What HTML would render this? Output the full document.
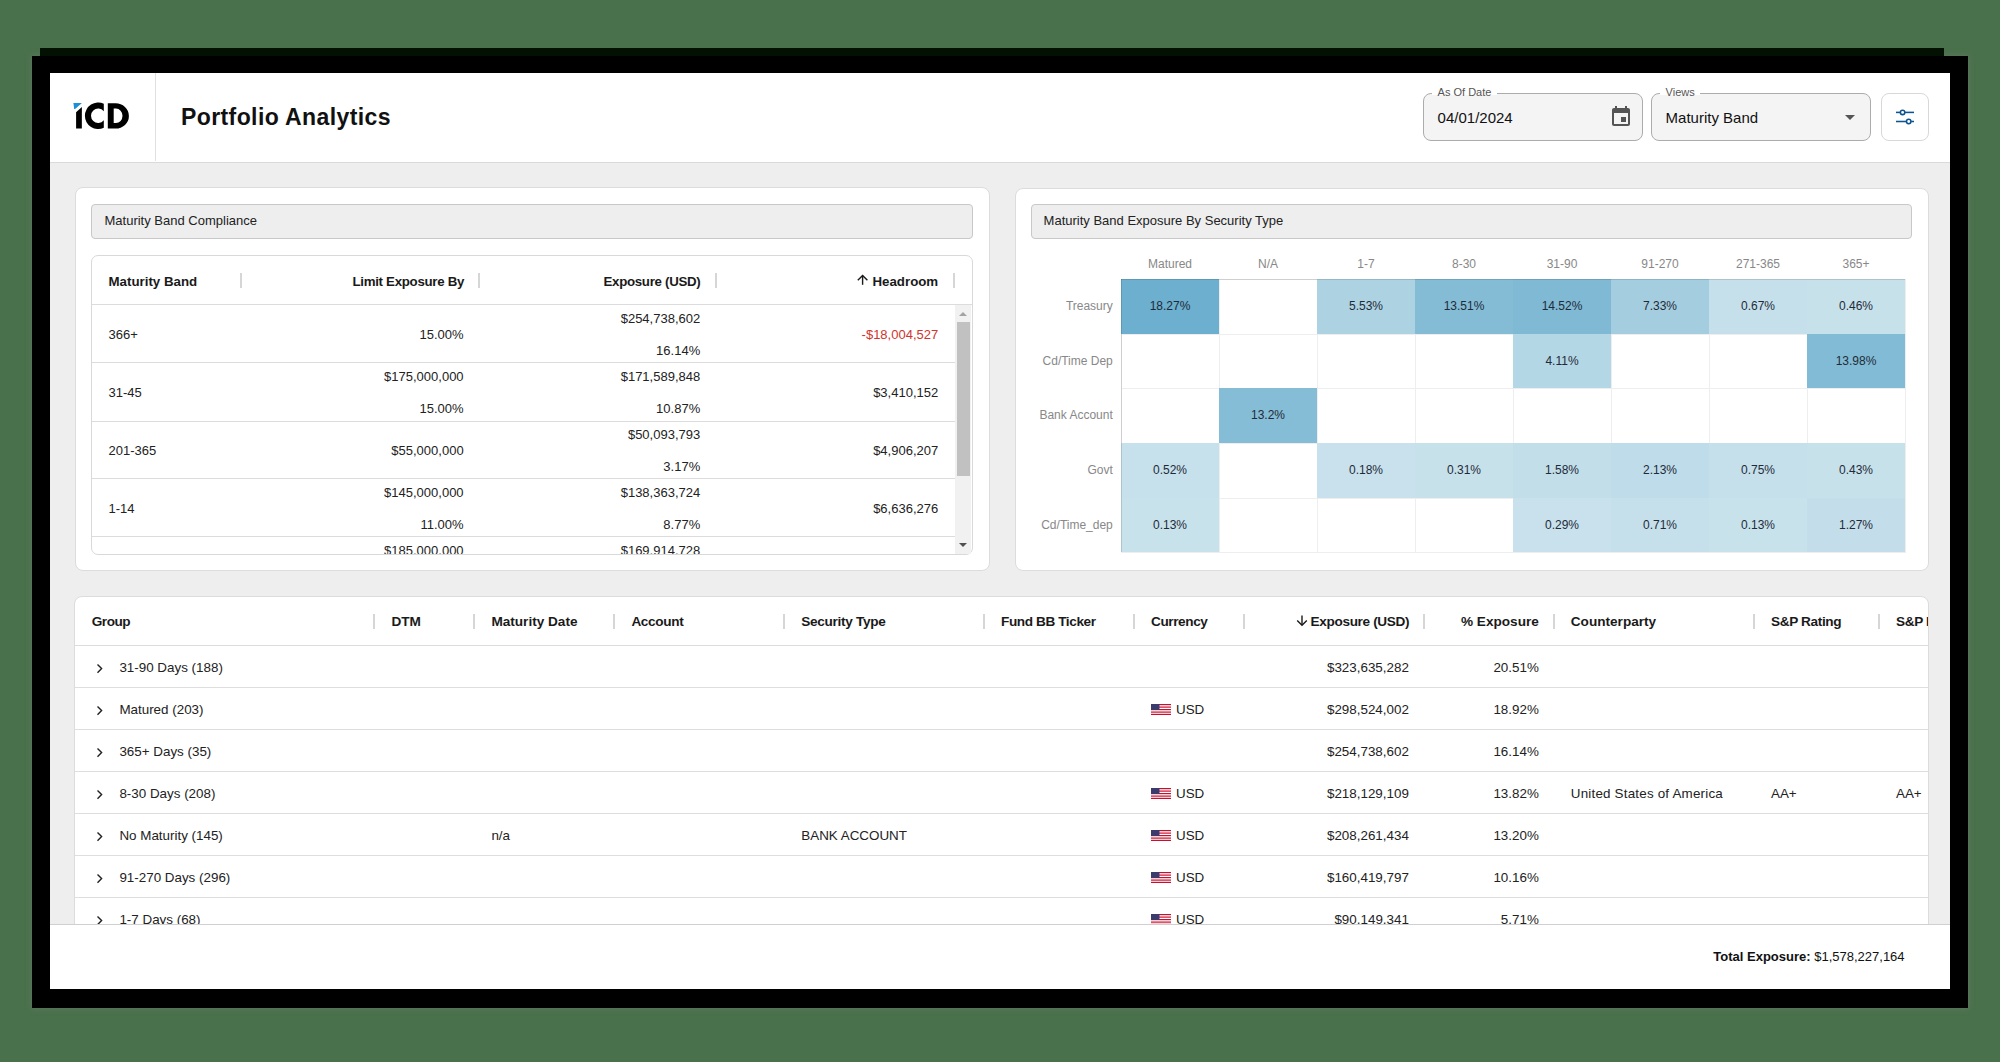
<!DOCTYPE html>
<html><head><meta charset="utf-8">
<style>
*{box-sizing:border-box;margin:0;padding:0}
html,body{width:2000px;height:1062px;overflow:hidden}
body{background:#49714b;font-family:"Liberation Sans",sans-serif;color:#222;position:relative}
.t{position:absolute;white-space:nowrap}
.b{position:absolute}
.clip{position:absolute;overflow:hidden}
</style></head><body>

<div class="b" style="left:32px;top:56px;width:1936px;height:952px;background:#000;box-shadow:0 0 6px 1px rgba(128,128,128,0.35)"></div>
<div class="b" style="left:40px;top:48px;width:1904px;height:8px;background:#021102"></div>
<div class="b" style="left:50px;top:73px;width:1900px;height:916px;background:#eeeeee"></div>
<div class="b" style="left:50px;top:73px;width:1900px;height:89px;background:#fff"></div>
<div class="b" style="left:50px;top:162px;width:1900px;height:1px;background:#dadada"></div>
<div class="b" style="left:155px;top:73px;width:1px;height:88px;background:#e0e0e0"></div>
<svg class="b" style="left:70px;top:98px" width="64" height="34" viewBox="70 98 64 34">
<polygon points="73.4,103.1 81.9,103.1 75.1,108.9 74.2,108.9" fill="#1b8fd8"/>
<polygon points="76.1,112.2 81.85,107.1 81.85,128.6 76.1,128.6" fill="#000"/>
<path d="M103.8,103.74 A13.3,13.3 0 1 0 103.8,127.86 L103.8,120.33 A7.2,7.2 0 1 1 103.8,111.27 Z" fill="#000"/>
<path fill-rule="evenodd" fill="#000" d="M107.8,103.3 H115.5 A13.4,12.65 0 0 1 115.5,128.6 H107.8 Z M113.7,108.6 H116 A6.5,7.2 0 0 1 116,123 H113.7 Z"/>
</svg>
<div class="t" style="top:106.03px;font-size:23px;line-height:23px;color:#111;font-weight:bold;letter-spacing:0.4px;left:181.00px;">Portfolio Analytics</div>
<div class="b" style="left:1423px;top:93px;width:220px;height:48px;background:#f4f4f4;border:1px solid #acacac;border-radius:8px"></div>
<div class="b" style="left:1432px;top:92px;width:64.5px;height:3px;background:#fff"></div>
<div class="t" style="top:86.59px;font-size:11px;line-height:11px;color:#555;left:1437.60px;">As Of Date</div>
<div class="t" style="top:110.30px;font-size:15px;line-height:15px;color:#111;left:1437.60px;">04/01/2024</div>
<div class="b" style="left:1651px;top:93px;width:220px;height:48px;background:#f4f4f4;border:1px solid #acacac;border-radius:8px"></div>
<div class="b" style="left:1660px;top:92px;width:40px;height:3px;background:#fff"></div>
<div class="t" style="top:86.59px;font-size:11px;line-height:11px;color:#555;left:1665.60px;">Views</div>
<div class="t" style="top:110.30px;font-size:15px;line-height:15px;color:#111;left:1665.60px;">Maturity Band</div>
<svg class="b" style="left:1609.2px;top:105.1px" width="24" height="24" viewBox="0 0 24 24"><path fill="#545454" d="M17 12h-5v5h5v-5zM16 1v2H8V1H6v2H5c-1.11 0-1.99.9-1.99 2L3 19c0 1.1.89 2 2 2h14c1.1 0 2-.9 2-2V5c0-1.1-.9-2-2-2h-1V1h-2zm3 18H5V8h14v11z"/></svg>
<svg class="b" style="left:1845px;top:115px" width="10" height="5" viewBox="0 0 10 5"><path d="M0 0L5 5L10 0Z" fill="#555"/></svg>
<div class="b" style="left:1881px;top:93px;width:48px;height:48px;background:#fff;border:1px solid #d8d8d8;border-radius:8px"></div>
<svg class="b" style="left:1890px;top:104px" width="30" height="26" viewBox="1890 104 30 26">
<g stroke="#0c5591" stroke-width="1.55" fill="none">
<line x1="1896" y1="112.4" x2="1900.2" y2="112.4"/><line x1="1905" y1="112.4" x2="1914" y2="112.4"/>
<circle cx="1902.6" cy="112.4" r="2.2" fill="#fff"/>
<line x1="1896" y1="121.5" x2="1906.3" y2="121.5"/><line x1="1911.1" y1="121.5" x2="1914" y2="121.5"/>
<circle cx="1908.7" cy="121.5" r="2.2" fill="#fff"/>
</g></svg>
<div class="b" style="left:75px;top:187px;width:915px;height:384px;background:#fff;border:1px solid #dcdcdc;border-radius:8px"></div>
<div class="b" style="left:1015px;top:188px;width:914px;height:383px;background:#fff;border:1px solid #dcdcdc;border-radius:8px"></div>
<div class="b" style="left:91px;top:204px;width:882px;height:35px;background:#eeeeee;border:1px solid #c8c8c8;border-radius:4px"></div>
<div class="t" style="top:214.30px;font-size:13px;line-height:13px;color:#222;left:104.50px;">Maturity Band Compliance</div>
<div class="b" style="left:1031px;top:204px;width:881px;height:35px;background:#eeeeee;border:1px solid #c8c8c8;border-radius:4px"></div>
<div class="t" style="top:214.30px;font-size:13px;line-height:13px;color:#222;left:1043.60px;">Maturity Band Exposure By Security Type</div>
<div class="b" style="left:91px;top:255px;width:882px;height:300px;background:#fff;border:1px solid #d9d9d9;border-radius:7px"></div>
<div class="b" style="left:92px;top:304px;width:880px;height:1px;background:#dcdcdc"></div>
<div class="b" style="left:240px;top:273px;width:2px;height:15px;background:#d6d6d6"></div>
<div class="b" style="left:478px;top:273px;width:2px;height:15px;background:#d6d6d6"></div>
<div class="b" style="left:715px;top:273px;width:2px;height:15px;background:#d6d6d6"></div>
<div class="b" style="left:953px;top:273px;width:2px;height:15px;background:#d6d6d6"></div>
<div class="t" style="top:274.74px;font-size:13.3px;line-height:13.3px;color:#1a1a1a;font-weight:bold;left:108.50px;">Maturity Band</div>
<div class="t" style="top:274.74px;font-size:13.3px;line-height:13.3px;color:#1a1a1a;font-weight:bold;letter-spacing:-0.3px;left:-535.90px;width:1000px;text-align:right;">Limit Exposure By</div>
<div class="t" style="top:274.74px;font-size:13.3px;line-height:13.3px;color:#1a1a1a;font-weight:bold;letter-spacing:-0.3px;left:-299.50px;width:1000px;text-align:right;">Exposure (USD)</div>
<div class="t" style="top:274.74px;font-size:13.3px;line-height:13.3px;color:#1a1a1a;font-weight:bold;left:-61.80px;width:1000px;text-align:right;">Headroom</div>
<svg class="b" style="left:856px;top:274px" width="13" height="12" viewBox="856 274 13 12"><g stroke="#1a1a1a" stroke-width="1.4" fill="none"><path d="M862.6,284.8 V275.6"/><path d="M857.8,280.2 L862.6,275.4 L867.4,280.2"/></g></svg>
<div class="clip" style="left:92px;top:305px;width:863px;height:249px">
<div class="t" style="top:22.80px;font-size:13px;line-height:13px;color:#222;left:16.50px;">366+</div>
<div class="t" style="top:22.80px;font-size:13px;line-height:13px;color:#222;left:-628.40px;width:1000px;text-align:right;">15.00%</div>
<div class="t" style="top:6.70px;font-size:13px;line-height:13px;color:#222;left:-391.80px;width:1000px;text-align:right;">$254,738,602</div>
<div class="t" style="top:38.70px;font-size:13px;line-height:13px;color:#222;left:-391.80px;width:1000px;text-align:right;">16.14%</div>
<div class="t" style="top:22.80px;font-size:13px;line-height:13px;color:#d0342c;left:-153.80px;width:1000px;text-align:right;">-$18,004,527</div>
<div class="b" style="left:0px;top:57.39999999999998px;width:863px;height:1px;background:#dcdcdc"></div>
<div class="t" style="top:80.80px;font-size:13px;line-height:13px;color:#222;left:16.50px;">31-45</div>
<div class="t" style="top:64.70px;font-size:13px;line-height:13px;color:#222;left:-628.40px;width:1000px;text-align:right;">$175,000,000</div>
<div class="t" style="top:96.70px;font-size:13px;line-height:13px;color:#222;left:-628.40px;width:1000px;text-align:right;">15.00%</div>
<div class="t" style="top:64.70px;font-size:13px;line-height:13px;color:#222;left:-391.80px;width:1000px;text-align:right;">$171,589,848</div>
<div class="t" style="top:96.70px;font-size:13px;line-height:13px;color:#222;left:-391.80px;width:1000px;text-align:right;">10.87%</div>
<div class="t" style="top:80.80px;font-size:13px;line-height:13px;color:#222;left:-153.80px;width:1000px;text-align:right;">$3,410,152</div>
<div class="b" style="left:0px;top:115.5px;width:863px;height:1px;background:#dcdcdc"></div>
<div class="t" style="top:138.90px;font-size:13px;line-height:13px;color:#222;left:16.50px;">201-365</div>
<div class="t" style="top:138.90px;font-size:13px;line-height:13px;color:#222;left:-628.40px;width:1000px;text-align:right;">$55,000,000</div>
<div class="t" style="top:122.80px;font-size:13px;line-height:13px;color:#222;left:-391.80px;width:1000px;text-align:right;">$50,093,793</div>
<div class="t" style="top:154.80px;font-size:13px;line-height:13px;color:#222;left:-391.80px;width:1000px;text-align:right;">3.17%</div>
<div class="t" style="top:138.90px;font-size:13px;line-height:13px;color:#222;left:-153.80px;width:1000px;text-align:right;">$4,906,207</div>
<div class="b" style="left:0px;top:173.39999999999998px;width:863px;height:1px;background:#dcdcdc"></div>
<div class="t" style="top:196.80px;font-size:13px;line-height:13px;color:#222;left:16.50px;">1-14</div>
<div class="t" style="top:180.70px;font-size:13px;line-height:13px;color:#222;left:-628.40px;width:1000px;text-align:right;">$145,000,000</div>
<div class="t" style="top:212.70px;font-size:13px;line-height:13px;color:#222;left:-628.40px;width:1000px;text-align:right;">11.00%</div>
<div class="t" style="top:180.70px;font-size:13px;line-height:13px;color:#222;left:-391.80px;width:1000px;text-align:right;">$138,363,724</div>
<div class="t" style="top:212.70px;font-size:13px;line-height:13px;color:#222;left:-391.80px;width:1000px;text-align:right;">8.77%</div>
<div class="t" style="top:196.80px;font-size:13px;line-height:13px;color:#222;left:-153.80px;width:1000px;text-align:right;">$6,636,276</div>
<div class="b" style="left:0px;top:231.39999999999998px;width:863px;height:1px;background:#dcdcdc"></div>
<div class="t" style="top:238.70px;font-size:13px;line-height:13px;color:#222;left:-628.40px;width:1000px;text-align:right;">$185,000,000</div>
<div class="t" style="top:270.70px;font-size:13px;line-height:13px;color:#222;left:-628.40px;width:1000px;text-align:right;">12.00%</div>
<div class="t" style="top:238.70px;font-size:13px;line-height:13px;color:#222;left:-391.80px;width:1000px;text-align:right;">$169,914,728</div>
<div class="t" style="top:270.70px;font-size:13px;line-height:13px;color:#222;left:-391.80px;width:1000px;text-align:right;">10.77%</div>
</div>
<div class="b" style="left:955px;top:305px;width:16px;height:249px;background:#f1f1f1"></div>
<div class="b" style="left:957.2px;top:321.8px;width:12.7px;height:153.8px;background:#c1c1c1"></div>
<svg class="b" style="left:958px;top:311px" width="10" height="6" viewBox="0 0 10 6"><path d="M1 5L5 1L9 5Z" fill="#a3a3a3"/></svg>
<svg class="b" style="left:958px;top:541.5px" width="10" height="6" viewBox="0 0 10 6"><path d="M1 1L5 5L9 1Z" fill="#505050"/></svg>
<div class="b" style="left:1121px;top:279px;width:784px;height:1px;background:#eeeeee"></div>
<div class="b" style="left:1121px;top:334px;width:784px;height:1px;background:#eeeeee"></div>
<div class="b" style="left:1121px;top:388px;width:784px;height:1px;background:#eeeeee"></div>
<div class="b" style="left:1121px;top:443px;width:784px;height:1px;background:#eeeeee"></div>
<div class="b" style="left:1121px;top:498px;width:784px;height:1px;background:#eeeeee"></div>
<div class="b" style="left:1121px;top:552px;width:784px;height:1px;background:#eeeeee"></div>
<div class="b" style="left:1121px;top:279px;width:1px;height:273.5px;background:#eeeeee"></div>
<div class="b" style="left:1219px;top:279px;width:1px;height:273.5px;background:#eeeeee"></div>
<div class="b" style="left:1317px;top:279px;width:1px;height:273.5px;background:#eeeeee"></div>
<div class="b" style="left:1415px;top:279px;width:1px;height:273.5px;background:#eeeeee"></div>
<div class="b" style="left:1513px;top:279px;width:1px;height:273.5px;background:#eeeeee"></div>
<div class="b" style="left:1611px;top:279px;width:1px;height:273.5px;background:#eeeeee"></div>
<div class="b" style="left:1709px;top:279px;width:1px;height:273.5px;background:#eeeeee"></div>
<div class="b" style="left:1807px;top:279px;width:1px;height:273.5px;background:#eeeeee"></div>
<div class="b" style="left:1905px;top:279px;width:1px;height:273.5px;background:#eeeeee"></div>
<div class="b" style="left:1121px;top:279px;width:98px;height:55px;background:#6cafce"></div>
<div class="b" style="left:1317px;top:279px;width:98px;height:55px;background:#add3e3"></div>
<div class="b" style="left:1415px;top:279px;width:98px;height:55px;background:#84bcd6"></div>
<div class="b" style="left:1513px;top:279px;width:98px;height:55px;background:#7fb9d4"></div>
<div class="b" style="left:1611px;top:279px;width:98px;height:55px;background:#a4cee0"></div>
<div class="b" style="left:1709px;top:279px;width:98px;height:55px;background:#c6e0eb"></div>
<div class="b" style="left:1807px;top:279px;width:98px;height:55px;background:#c7e1eb"></div>
<div class="b" style="left:1513px;top:334px;width:98px;height:54px;background:#b4d7e5"></div>
<div class="b" style="left:1807px;top:334px;width:98px;height:54px;background:#82bbd5"></div>
<div class="b" style="left:1219px;top:388px;width:98px;height:55px;background:#86bdd6"></div>
<div class="b" style="left:1121px;top:443px;width:98px;height:55px;background:#c6e1eb"></div>
<div class="b" style="left:1317px;top:443px;width:98px;height:55px;background:#c8e1ec"></div>
<div class="b" style="left:1415px;top:443px;width:98px;height:55px;background:#c7e1eb"></div>
<div class="b" style="left:1513px;top:443px;width:98px;height:55px;background:#c1dee9"></div>
<div class="b" style="left:1611px;top:443px;width:98px;height:55px;background:#bedce9"></div>
<div class="b" style="left:1709px;top:443px;width:98px;height:55px;background:#c5e0eb"></div>
<div class="b" style="left:1807px;top:443px;width:98px;height:55px;background:#c7e1eb"></div>
<div class="b" style="left:1121px;top:498px;width:98px;height:54px;background:#c8e2ec"></div>
<div class="b" style="left:1513px;top:498px;width:98px;height:54px;background:#c8e1ec"></div>
<div class="b" style="left:1611px;top:498px;width:98px;height:54px;background:#c5e0eb"></div>
<div class="b" style="left:1709px;top:498px;width:98px;height:54px;background:#c8e2ec"></div>
<div class="b" style="left:1807px;top:498px;width:98px;height:54px;background:#c3deea"></div>
<div class="b" style="left:1121px;top:278.5px;width:784px;height:1px;background:rgba(0,0,0,0.13)"></div>
<div class="b" style="left:1121px;top:278.5px;width:1px;height:273.5px;background:rgba(0,0,0,0.13)"></div>
<div class="t" style="top:257.64px;font-size:12px;line-height:12px;color:#888;left:670.00px;width:1000px;text-align:center;">Matured</div>
<div class="t" style="top:257.64px;font-size:12px;line-height:12px;color:#888;left:768.00px;width:1000px;text-align:center;">N/A</div>
<div class="t" style="top:257.64px;font-size:12px;line-height:12px;color:#888;left:866.00px;width:1000px;text-align:center;">1-7</div>
<div class="t" style="top:257.64px;font-size:12px;line-height:12px;color:#888;left:964.00px;width:1000px;text-align:center;">8-30</div>
<div class="t" style="top:257.64px;font-size:12px;line-height:12px;color:#888;left:1062.00px;width:1000px;text-align:center;">31-90</div>
<div class="t" style="top:257.64px;font-size:12px;line-height:12px;color:#888;left:1160.00px;width:1000px;text-align:center;">91-270</div>
<div class="t" style="top:257.64px;font-size:12px;line-height:12px;color:#888;left:1258.00px;width:1000px;text-align:center;">271-365</div>
<div class="t" style="top:257.64px;font-size:12px;line-height:12px;color:#888;left:1356.00px;width:1000px;text-align:center;">365+</div>
<div class="t" style="top:299.89px;font-size:12px;line-height:12px;color:#888;left:112.80px;width:1000px;text-align:right;">Treasury</div>
<div class="t" style="top:299.89px;font-size:12px;line-height:12px;color:#1f2b38;left:670.00px;width:1000px;text-align:center;">18.27%</div>
<div class="t" style="top:299.89px;font-size:12px;line-height:12px;color:#1f2b38;left:866.00px;width:1000px;text-align:center;">5.53%</div>
<div class="t" style="top:299.89px;font-size:12px;line-height:12px;color:#1f2b38;left:964.00px;width:1000px;text-align:center;">13.51%</div>
<div class="t" style="top:299.89px;font-size:12px;line-height:12px;color:#1f2b38;left:1062.00px;width:1000px;text-align:center;">14.52%</div>
<div class="t" style="top:299.89px;font-size:12px;line-height:12px;color:#1f2b38;left:1160.00px;width:1000px;text-align:center;">7.33%</div>
<div class="t" style="top:299.89px;font-size:12px;line-height:12px;color:#1f2b38;left:1258.00px;width:1000px;text-align:center;">0.67%</div>
<div class="t" style="top:299.89px;font-size:12px;line-height:12px;color:#1f2b38;left:1356.00px;width:1000px;text-align:center;">0.46%</div>
<div class="t" style="top:354.59px;font-size:12px;line-height:12px;color:#888;left:112.80px;width:1000px;text-align:right;">Cd/Time Dep</div>
<div class="t" style="top:354.59px;font-size:12px;line-height:12px;color:#1f2b38;left:1062.00px;width:1000px;text-align:center;">4.11%</div>
<div class="t" style="top:354.59px;font-size:12px;line-height:12px;color:#1f2b38;left:1356.00px;width:1000px;text-align:center;">13.98%</div>
<div class="t" style="top:409.29px;font-size:12px;line-height:12px;color:#888;left:112.80px;width:1000px;text-align:right;">Bank Account</div>
<div class="t" style="top:409.29px;font-size:12px;line-height:12px;color:#1f2b38;left:768.00px;width:1000px;text-align:center;">13.2%</div>
<div class="t" style="top:463.99px;font-size:12px;line-height:12px;color:#888;left:112.80px;width:1000px;text-align:right;">Govt</div>
<div class="t" style="top:463.99px;font-size:12px;line-height:12px;color:#1f2b38;left:670.00px;width:1000px;text-align:center;">0.52%</div>
<div class="t" style="top:463.99px;font-size:12px;line-height:12px;color:#1f2b38;left:866.00px;width:1000px;text-align:center;">0.18%</div>
<div class="t" style="top:463.99px;font-size:12px;line-height:12px;color:#1f2b38;left:964.00px;width:1000px;text-align:center;">0.31%</div>
<div class="t" style="top:463.99px;font-size:12px;line-height:12px;color:#1f2b38;left:1062.00px;width:1000px;text-align:center;">1.58%</div>
<div class="t" style="top:463.99px;font-size:12px;line-height:12px;color:#1f2b38;left:1160.00px;width:1000px;text-align:center;">2.13%</div>
<div class="t" style="top:463.99px;font-size:12px;line-height:12px;color:#1f2b38;left:1258.00px;width:1000px;text-align:center;">0.75%</div>
<div class="t" style="top:463.99px;font-size:12px;line-height:12px;color:#1f2b38;left:1356.00px;width:1000px;text-align:center;">0.43%</div>
<div class="t" style="top:518.69px;font-size:12px;line-height:12px;color:#888;left:112.80px;width:1000px;text-align:right;">Cd/Time_dep</div>
<div class="t" style="top:518.69px;font-size:12px;line-height:12px;color:#1f2b38;left:670.00px;width:1000px;text-align:center;">0.13%</div>
<div class="t" style="top:518.69px;font-size:12px;line-height:12px;color:#1f2b38;left:1062.00px;width:1000px;text-align:center;">0.29%</div>
<div class="t" style="top:518.69px;font-size:12px;line-height:12px;color:#1f2b38;left:1160.00px;width:1000px;text-align:center;">0.71%</div>
<div class="t" style="top:518.69px;font-size:12px;line-height:12px;color:#1f2b38;left:1258.00px;width:1000px;text-align:center;">0.13%</div>
<div class="t" style="top:518.69px;font-size:12px;line-height:12px;color:#1f2b38;left:1356.00px;width:1000px;text-align:center;">1.27%</div>
<div class="b" style="left:74px;top:596px;width:1855px;height:340px;background:#fff;border:1px solid #dcdcdc;border-radius:8px"></div>
<div class="b" style="left:75px;top:645px;width:1853px;height:1px;background:#dcdcdc"></div>
<div class="b" style="left:373px;top:614px;width:2px;height:15px;background:#d6d6d6"></div>
<div class="b" style="left:473px;top:614px;width:2px;height:15px;background:#d6d6d6"></div>
<div class="b" style="left:613px;top:614px;width:2px;height:15px;background:#d6d6d6"></div>
<div class="b" style="left:783px;top:614px;width:2px;height:15px;background:#d6d6d6"></div>
<div class="b" style="left:983px;top:614px;width:2px;height:15px;background:#d6d6d6"></div>
<div class="b" style="left:1133px;top:614px;width:2px;height:15px;background:#d6d6d6"></div>
<div class="b" style="left:1243px;top:614px;width:2px;height:15px;background:#d6d6d6"></div>
<div class="b" style="left:1423px;top:614px;width:2px;height:15px;background:#d6d6d6"></div>
<div class="b" style="left:1553px;top:614px;width:2px;height:15px;background:#d6d6d6"></div>
<div class="b" style="left:1753px;top:614px;width:2px;height:15px;background:#d6d6d6"></div>
<div class="b" style="left:1878px;top:614px;width:2px;height:15px;background:#d6d6d6"></div>
<div class="t" style="top:615.49px;font-size:13.6px;line-height:13.6px;color:#1a1a1a;font-weight:bold;letter-spacing:-0.5px;left:91.80px;">Group</div>
<div class="t" style="top:615.49px;font-size:13.6px;line-height:13.6px;color:#1a1a1a;font-weight:bold;left:391.50px;">DTM</div>
<div class="t" style="top:615.49px;font-size:13.6px;line-height:13.6px;color:#1a1a1a;font-weight:bold;left:491.40px;">Maturity Date</div>
<div class="t" style="top:615.49px;font-size:13.6px;line-height:13.6px;color:#1a1a1a;font-weight:bold;letter-spacing:-0.35px;left:631.40px;">Account</div>
<div class="t" style="top:615.49px;font-size:13.6px;line-height:13.6px;color:#1a1a1a;font-weight:bold;letter-spacing:-0.3px;left:801.30px;">Security Type</div>
<div class="t" style="top:615.49px;font-size:13.6px;line-height:13.6px;color:#1a1a1a;font-weight:bold;letter-spacing:-0.4px;left:1001.00px;">Fund BB Ticker</div>
<div class="t" style="top:615.49px;font-size:13.6px;line-height:13.6px;color:#1a1a1a;font-weight:bold;letter-spacing:-0.4px;left:1151.00px;">Currency</div>
<div class="t" style="top:615.49px;font-size:13.6px;line-height:13.6px;color:#1a1a1a;font-weight:bold;left:1570.80px;">Counterparty</div>
<div class="t" style="top:615.49px;font-size:13.6px;line-height:13.6px;color:#1a1a1a;font-weight:bold;letter-spacing:-0.35px;left:1771.00px;">S&amp;P Rating</div>
<div class="clip" style="left:1880px;top:600px;width:48px;height:40px">
<div class="t" style="top:15.49px;font-size:13.6px;line-height:13.6px;color:#1a1a1a;font-weight:bold;letter-spacing:-0.35px;left:16.00px;">S&amp;P Rating</div>
</div>
<div class="t" style="top:615.49px;font-size:13.6px;line-height:13.6px;color:#1a1a1a;font-weight:bold;letter-spacing:-0.35px;left:409.20px;width:1000px;text-align:right;">Exposure (USD)</div>
<div class="t" style="top:615.49px;font-size:13.6px;line-height:13.6px;color:#1a1a1a;font-weight:bold;left:538.80px;width:1000px;text-align:right;">% Exposure</div>
<svg class="b" style="left:1295px;top:614px" width="14" height="13" viewBox="1295 614 14 13"><g stroke="#1a1a1a" stroke-width="1.4" fill="none"><path d="M1302,615.5 V625"/><path d="M1297.2,620.4 L1302,625.2 L1306.8,620.4"/></g></svg>
<div class="clip" style="left:75px;top:646px;width:1853px;height:278px">
<svg class="b" style="left:20.5px;top:17.2px" width="8" height="11" viewBox="0 0 8 11"><path d="M1.5,1.5 L5.6,5.6 L1.5,9.7" stroke="#222" stroke-width="1.4" fill="none"/></svg>
<div class="t" style="top:15.16px;font-size:13.4px;line-height:13.4px;color:#222;left:44.40px;">31-90 Days (188)</div>
<div class="t" style="top:15.16px;font-size:13.4px;line-height:13.4px;color:#222;left:333.90px;width:1000px;text-align:right;">$323,635,282</div>
<div class="t" style="top:15.16px;font-size:13.4px;line-height:13.4px;color:#222;left:463.80px;width:1000px;text-align:right;">20.51%</div>
<div class="b" style="left:0px;top:41px;width:1853px;height:1px;background:#dedede"></div>
<svg class="b" style="left:20.5px;top:59.2px" width="8" height="11" viewBox="0 0 8 11"><path d="M1.5,1.5 L5.6,5.6 L1.5,9.7" stroke="#222" stroke-width="1.4" fill="none"/></svg>
<div class="t" style="top:57.16px;font-size:13.4px;line-height:13.4px;color:#222;left:44.40px;">Matured (203)</div>
<svg class="b" style="left:1076px;top:58.0px" width="20" height="11" viewBox="0 0 20 11"><rect width="20" height="11" fill="#fff"/><g fill="#c8102e"><rect y="0" width="20" height="1.2"/><rect y="2.5" width="20" height="1.2"/><rect y="5" width="20" height="1.2"/><rect y="7.5" width="20" height="1.2"/><rect y="9.8" width="20" height="1.2"/></g><rect width="8.5" height="6" fill="#3c3b6e"/></svg>
<div class="t" style="top:57.16px;font-size:13.4px;line-height:13.4px;color:#222;left:1101.00px;">USD</div>
<div class="t" style="top:57.16px;font-size:13.4px;line-height:13.4px;color:#222;left:333.90px;width:1000px;text-align:right;">$298,524,002</div>
<div class="t" style="top:57.16px;font-size:13.4px;line-height:13.4px;color:#222;left:463.80px;width:1000px;text-align:right;">18.92%</div>
<div class="b" style="left:0px;top:83px;width:1853px;height:1px;background:#dedede"></div>
<svg class="b" style="left:20.5px;top:101.2px" width="8" height="11" viewBox="0 0 8 11"><path d="M1.5,1.5 L5.6,5.6 L1.5,9.7" stroke="#222" stroke-width="1.4" fill="none"/></svg>
<div class="t" style="top:99.16px;font-size:13.4px;line-height:13.4px;color:#222;left:44.40px;">365+ Days (35)</div>
<div class="t" style="top:99.16px;font-size:13.4px;line-height:13.4px;color:#222;left:333.90px;width:1000px;text-align:right;">$254,738,602</div>
<div class="t" style="top:99.16px;font-size:13.4px;line-height:13.4px;color:#222;left:463.80px;width:1000px;text-align:right;">16.14%</div>
<div class="b" style="left:0px;top:125px;width:1853px;height:1px;background:#dedede"></div>
<svg class="b" style="left:20.5px;top:143.2px" width="8" height="11" viewBox="0 0 8 11"><path d="M1.5,1.5 L5.6,5.6 L1.5,9.7" stroke="#222" stroke-width="1.4" fill="none"/></svg>
<div class="t" style="top:141.16px;font-size:13.4px;line-height:13.4px;color:#222;left:44.40px;">8-30 Days (208)</div>
<svg class="b" style="left:1076px;top:142.0px" width="20" height="11" viewBox="0 0 20 11"><rect width="20" height="11" fill="#fff"/><g fill="#c8102e"><rect y="0" width="20" height="1.2"/><rect y="2.5" width="20" height="1.2"/><rect y="5" width="20" height="1.2"/><rect y="7.5" width="20" height="1.2"/><rect y="9.8" width="20" height="1.2"/></g><rect width="8.5" height="6" fill="#3c3b6e"/></svg>
<div class="t" style="top:141.16px;font-size:13.4px;line-height:13.4px;color:#222;left:1101.00px;">USD</div>
<div class="t" style="top:141.16px;font-size:13.4px;line-height:13.4px;color:#222;left:333.90px;width:1000px;text-align:right;">$218,129,109</div>
<div class="t" style="top:141.16px;font-size:13.4px;line-height:13.4px;color:#222;left:463.80px;width:1000px;text-align:right;">13.82%</div>
<div class="t" style="top:141.16px;font-size:13.4px;line-height:13.4px;color:#222;letter-spacing:0.2px;left:1495.80px;">United States of America</div>
<div class="t" style="top:141.16px;font-size:13.4px;line-height:13.4px;color:#222;left:1696.00px;">AA+</div>
<div class="t" style="top:141.16px;font-size:13.4px;line-height:13.4px;color:#222;left:1821.00px;">AA+</div>
<div class="b" style="left:0px;top:167px;width:1853px;height:1px;background:#dedede"></div>
<svg class="b" style="left:20.5px;top:185.2px" width="8" height="11" viewBox="0 0 8 11"><path d="M1.5,1.5 L5.6,5.6 L1.5,9.7" stroke="#222" stroke-width="1.4" fill="none"/></svg>
<div class="t" style="top:183.16px;font-size:13.4px;line-height:13.4px;color:#222;left:44.40px;">No Maturity (145)</div>
<div class="t" style="top:183.16px;font-size:13.4px;line-height:13.4px;color:#222;left:416.40px;">n/a</div>
<div class="t" style="top:183.16px;font-size:13.4px;line-height:13.4px;color:#222;left:726.30px;">BANK ACCOUNT</div>
<svg class="b" style="left:1076px;top:184.0px" width="20" height="11" viewBox="0 0 20 11"><rect width="20" height="11" fill="#fff"/><g fill="#c8102e"><rect y="0" width="20" height="1.2"/><rect y="2.5" width="20" height="1.2"/><rect y="5" width="20" height="1.2"/><rect y="7.5" width="20" height="1.2"/><rect y="9.8" width="20" height="1.2"/></g><rect width="8.5" height="6" fill="#3c3b6e"/></svg>
<div class="t" style="top:183.16px;font-size:13.4px;line-height:13.4px;color:#222;left:1101.00px;">USD</div>
<div class="t" style="top:183.16px;font-size:13.4px;line-height:13.4px;color:#222;left:333.90px;width:1000px;text-align:right;">$208,261,434</div>
<div class="t" style="top:183.16px;font-size:13.4px;line-height:13.4px;color:#222;left:463.80px;width:1000px;text-align:right;">13.20%</div>
<div class="b" style="left:0px;top:209px;width:1853px;height:1px;background:#dedede"></div>
<svg class="b" style="left:20.5px;top:227.2px" width="8" height="11" viewBox="0 0 8 11"><path d="M1.5,1.5 L5.6,5.6 L1.5,9.7" stroke="#222" stroke-width="1.4" fill="none"/></svg>
<div class="t" style="top:225.16px;font-size:13.4px;line-height:13.4px;color:#222;left:44.40px;">91-270 Days (296)</div>
<svg class="b" style="left:1076px;top:226.0px" width="20" height="11" viewBox="0 0 20 11"><rect width="20" height="11" fill="#fff"/><g fill="#c8102e"><rect y="0" width="20" height="1.2"/><rect y="2.5" width="20" height="1.2"/><rect y="5" width="20" height="1.2"/><rect y="7.5" width="20" height="1.2"/><rect y="9.8" width="20" height="1.2"/></g><rect width="8.5" height="6" fill="#3c3b6e"/></svg>
<div class="t" style="top:225.16px;font-size:13.4px;line-height:13.4px;color:#222;left:1101.00px;">USD</div>
<div class="t" style="top:225.16px;font-size:13.4px;line-height:13.4px;color:#222;left:333.90px;width:1000px;text-align:right;">$160,419,797</div>
<div class="t" style="top:225.16px;font-size:13.4px;line-height:13.4px;color:#222;left:463.80px;width:1000px;text-align:right;">10.16%</div>
<div class="b" style="left:0px;top:251px;width:1853px;height:1px;background:#dedede"></div>
<svg class="b" style="left:20.5px;top:269.2px" width="8" height="11" viewBox="0 0 8 11"><path d="M1.5,1.5 L5.6,5.6 L1.5,9.7" stroke="#222" stroke-width="1.4" fill="none"/></svg>
<div class="t" style="top:267.16px;font-size:13.4px;line-height:13.4px;color:#222;left:44.40px;">1-7 Days (68)</div>
<svg class="b" style="left:1076px;top:268.0px" width="20" height="11" viewBox="0 0 20 11"><rect width="20" height="11" fill="#fff"/><g fill="#c8102e"><rect y="0" width="20" height="1.2"/><rect y="2.5" width="20" height="1.2"/><rect y="5" width="20" height="1.2"/><rect y="7.5" width="20" height="1.2"/><rect y="9.8" width="20" height="1.2"/></g><rect width="8.5" height="6" fill="#3c3b6e"/></svg>
<div class="t" style="top:267.16px;font-size:13.4px;line-height:13.4px;color:#222;left:1101.00px;">USD</div>
<div class="t" style="top:267.16px;font-size:13.4px;line-height:13.4px;color:#222;left:333.90px;width:1000px;text-align:right;">$90,149,341</div>
<div class="t" style="top:267.16px;font-size:13.4px;line-height:13.4px;color:#222;left:463.80px;width:1000px;text-align:right;">5.71%</div>
</div>
<div class="b" style="left:50px;top:924px;width:1900px;height:65px;background:#fff;border-top:1px solid #d0d0d0"></div>
<div class="t" style="top:950.20px;font-size:13px;line-height:13px;color:#111;font-weight:bold;left:810.60px;width:1000px;text-align:right;">Total Exposure:</div>
<div class="t" style="top:950.20px;font-size:13px;line-height:13px;color:#111;left:904.60px;width:1000px;text-align:right;">$1,578,227,164</div>
</body></html>
